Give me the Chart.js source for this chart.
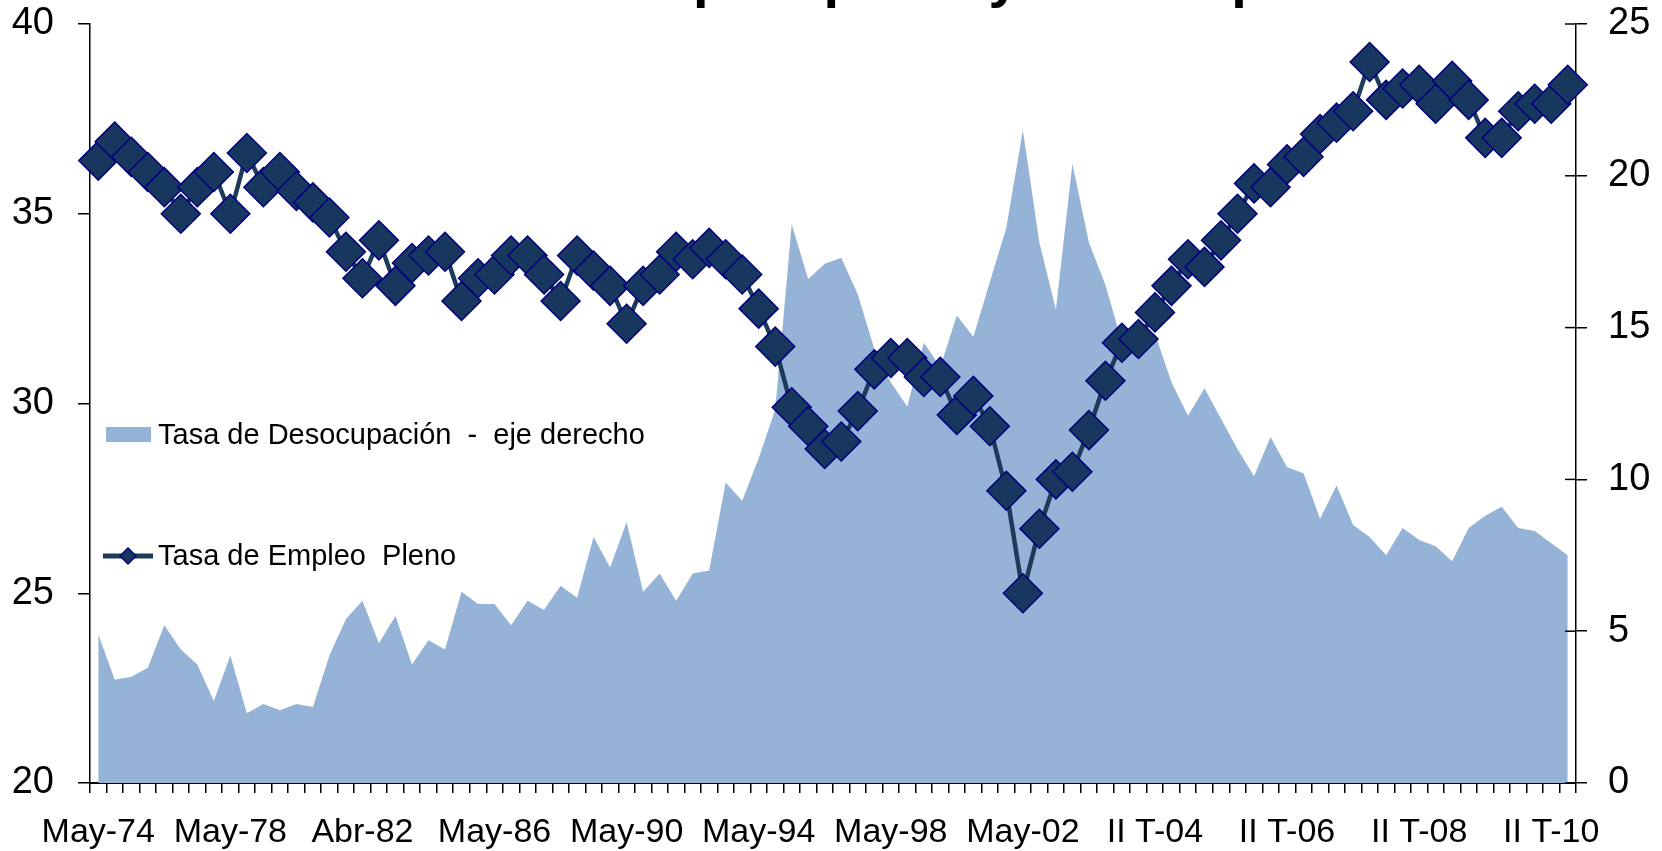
<!DOCTYPE html>
<html>
<head>
<meta charset="utf-8">
<script src="https://cdn.jsdelivr.net/npm/chart.js@4.4.1/dist/chart.umd.min.js"></script>
<style>
  html, body { margin: 0; padding: 0; background: #fff; overflow: hidden; }
  #wrap { width: 1662px; height: 851px; position: relative; }
</style>
</head>
<body>
<div id="wrap"><canvas id="empleoChart"></canvas></div>
<script>
// Periods: May/Oct waves up to May-03, then quarters
const categories = [
  'May-74', 'Oct-74', 'May-75', 'Oct-75', 'May-76', 'Oct-76', 'May-77', 'Oct-77',
  'May-78', 'Oct-78', 'May-79', 'Oct-79', 'May-80', 'Oct-80', 'May-81', 'Oct-81',
  'Abr-82', 'Oct-82', 'May-83', 'Oct-83', 'May-84', 'Oct-84', 'May-85', 'Oct-85',
  'May-86', 'Oct-86', 'May-87', 'Oct-87', 'May-88', 'Oct-88', 'May-89', 'Oct-89',
  'May-90', 'Oct-90', 'May-91', 'Oct-91', 'May-92', 'Oct-92', 'May-93', 'Oct-93',
  'May-94', 'Oct-94', 'May-95', 'Oct-95', 'May-96', 'Oct-96', 'May-97', 'Oct-97',
  'May-98', 'Oct-98', 'May-99', 'Oct-99', 'May-00', 'Oct-00', 'May-01', 'Oct-01',
  'May-02', 'Oct-02', 'May-03',
  'I T-03', 'II T-03', 'III T-03', 'IV T-03',
  'I T-04', 'II T-04', 'III T-04', 'IV T-04',
  'I T-05', 'II T-05', 'III T-05', 'IV T-05',
  'I T-06', 'II T-06', 'III T-06', 'IV T-06',
  'I T-07', 'II T-07', 'III T-07', 'IV T-07',
  'I T-08', 'II T-08', 'III T-08', 'IV T-08',
  'I T-09', 'II T-09', 'III T-09', 'IV T-09',
  'I T-10', 'II T-10', 'III T-10'
];

// Tasa de Empleo Pleno (left axis)
const empleoPleno = [
  36.4, 36.9, 36.5, 36.1, 35.7, 35.0, 35.7, 36.1, 35.0, 36.6,
  35.7, 36.1, 35.6, 35.3, 34.9, 34.0, 33.3, 34.3, 33.1, 33.7,
  33.9, 34.0, 32.7, 33.3, 33.4, 33.9, 33.9, 33.4, 32.7, 33.9,
  33.5, 33.1, 32.1, 33.1, 33.4, 34.0, 33.8, 34.1, 33.8, 33.4,
  32.5, 31.5, 29.9, 29.4, 28.8, 29.0, 29.8, 30.9, 31.2, 31.2,
  30.7, 30.7, 29.7, 30.2, 29.4, 27.7, 25.0, 26.7, 28.0, 28.2,
  29.3, 30.6, 31.6, 31.7, 32.4, 33.1, 33.8, 33.6, 34.3, 35.0,
  35.8, 35.7, 36.3, 36.5, 37.1, 37.4, 37.7, 39.0, 38.0, 38.3,
  38.4, 37.9, 38.5, 38.0, 37.0, 37.0, 37.7, 37.9, 37.9, 38.4
];

// Tasa de Desocupación (right axis)
const desocupacion = [
  4.9, 3.4, 3.5, 3.8, 5.2, 4.4, 3.9, 2.7, 4.2, 2.3,
  2.6, 2.4, 2.6, 2.5, 4.2, 5.4, 6.0, 4.6, 5.5, 3.9,
  4.7, 4.4, 6.3, 5.9, 5.9, 5.2, 6.0, 5.7, 6.5, 6.1,
  8.1, 7.1, 8.6, 6.3, 6.9, 6.0, 6.9, 7.0, 9.9, 9.3,
  10.7, 12.3, 18.4, 16.6, 17.1, 17.3, 16.1, 14.3, 13.2, 12.4,
  14.5, 13.7, 15.4, 14.7, 16.5, 18.3, 21.5, 17.8, 15.6, 20.4,
  17.8, 16.4, 14.5, 14.4, 14.8, 13.2, 12.1, 13.0, 12.0, 11.0,
  10.1, 11.4, 10.4, 10.2, 8.7, 9.8, 8.5, 8.1, 7.5, 8.4,
  8.0, 7.8, 7.3, 8.4, 8.8, 9.1, 8.4, 8.3, 7.9, 7.5
];

const titleText = 'Tasa de empleo pleno y desocupación';
const FONT = '"Liberation Sans", Arial, sans-serif';
const LINE_COLOR = '#1c3a5a';
const MARKER_FILL = '#17375e';
const MARKER_EDGE = '#000080';
const AREA_COLOR = '#95b3d7';

// title (cut by the top edge), hand placed legend and inner half of right ticks
const extras = {
  id: 'extras',
  afterDraw(chart) {
    const ctx = chart.ctx;
    const area = chart.chartArea;
    const y1 = chart.scales.y1;
    ctx.save();

    ctx.strokeStyle = '#000';
    ctx.lineWidth = 1.5;
    y1.ticks.forEach((t, i) => {
      const py = y1.getPixelForTick(i);
      ctx.beginPath();
      ctx.moveTo(area.right - 11, py);
      ctx.lineTo(area.right, py);
      ctx.stroke();
    });

    ctx.fillStyle = '#000';
    ctx.font = 'bold 56px ' + FONT;
    ctx.textAlign = 'left';
    ctx.textBaseline = 'alphabetic';
    ctx.fillText(titleText, 392, -4);

    // legend
    ctx.font = '29px ' + FONT;
    ctx.textBaseline = 'middle';
    ctx.fillStyle = AREA_COLOR;
    ctx.fillRect(106, 427, 45, 15);
    ctx.fillStyle = '#000';
    ctx.fillText(chart.data.datasets[1].label, 158, 436);

    ctx.strokeStyle = LINE_COLOR;
    ctx.lineWidth = 5;
    ctx.beginPath();
    ctx.moveTo(103, 556);
    ctx.lineTo(153, 556);
    ctx.stroke();
    ctx.beginPath();
    ctx.moveTo(128, 548);
    ctx.lineTo(136, 556);
    ctx.lineTo(128, 564);
    ctx.lineTo(120, 556);
    ctx.closePath();
    ctx.fillStyle = MARKER_FILL;
    ctx.fill();
    ctx.strokeStyle = MARKER_EDGE;
    ctx.lineWidth = 1.5;
    ctx.stroke();
    ctx.fillStyle = '#000';
    ctx.fillText(chart.data.datasets[0].label, 158, 557);

    ctx.restore();
  }
};

const ctx = document.getElementById('empleoChart').getContext('2d');
const empleoChart = new Chart(ctx, {
  type: 'line',
  data: {
    labels: categories,
    datasets: [{
      label: 'Tasa de Empleo  Pleno',
      data: empleoPleno,
      yAxisID: 'y',
      borderColor: LINE_COLOR,
      borderWidth: 4.5,
      pointStyle: 'rectRot',
      pointRadius: 19.5,
      pointBackgroundColor: MARKER_FILL,
      pointBorderColor: MARKER_EDGE,
      pointBorderWidth: 1.5,
      tension: 0,
      fill: false,
      clip: false,
      order: 0
    }, {
      label: 'Tasa de Desocupación  -  eje derecho',
      data: desocupacion,
      yAxisID: 'y1',
      backgroundColor: AREA_COLOR,
      borderWidth: 0,
      pointRadius: 0,
      tension: 0,
      fill: 'origin',
      order: 1
    }]
  },
  options: {
    responsive: true,
    maintainAspectRatio: false,
    animation: false,
    events: [],
    layout: { autoPadding: false, padding: { top: 24, left: 0, right: 0, bottom: 0 } },
    plugins: {
      legend: { display: false },
      tooltip: { enabled: false },
      title: { display: false }
    },
    scales: {
      x: {
        offset: true,
        grid: {
          offset: true,
          drawOnChartArea: false,
          tickLength: 10,
          color: '#000',
          lineWidth: 1.5
        },
        border: { color: '#000', width: 2 },
        ticks: {
          autoSkip: false,
          maxRotation: 0,
          minRotation: 0,
          padding: 19,
          color: '#000',
          font: { family: FONT, size: 34 },
          callback: function(value, index) {
            return index % 8 === 0 ? categories[index] : '';
          }
        },
        afterFit: function(scale) { scale.height = 68; }
      },
      y: {
        position: 'left',
        min: 20,
        max: 40,
        grid: {
          drawOnChartArea: false,
          tickLength: 12,
          color: '#000',
          lineWidth: 1.5
        },
        border: { color: '#000', width: 1.5 },
        ticks: {
          stepSize: 5,
          padding: 24,
          color: '#000',
          font: { family: FONT, size: 38 }
        },
        afterFit: function(scale) {
          scale.width = 90;
          scale.paddingTop = 0;
          scale.paddingBottom = 0;
        }
      },
      y1: {
        position: 'right',
        min: 0,
        max: 25,
        grid: {
          drawOnChartArea: false,
          tickLength: 11,
          color: '#000',
          lineWidth: 1.5
        },
        border: { color: '#000', width: 1.5 },
        ticks: {
          stepSize: 5,
          padding: 21,
          color: '#000',
          font: { family: FONT, size: 38 }
        },
        afterFit: function(scale) {
          scale.width = 86;
          scale.paddingTop = 0;
          scale.paddingBottom = 0;
        }
      }
    }
  },
  plugins: [extras]
});
</script>
</body>
</html>
